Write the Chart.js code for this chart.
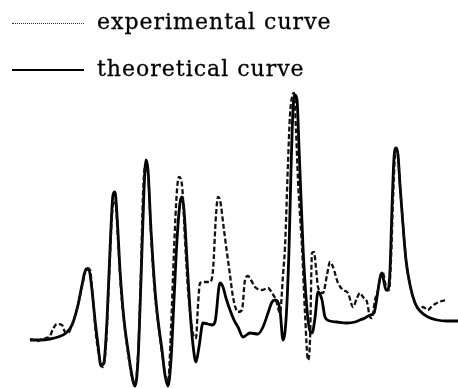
<!DOCTYPE html>
<html>
<head>
<meta charset="utf-8">
<script src="https://cdn.jsdelivr.net/npm/chart.js@4.4.1/dist/chart.umd.min.js"></script>
<style>
  html, body { margin: 0; padding: 0; background: #fff; }
  #wrap { position: relative; width: 458px; height: 388px; overflow: hidden; }
  #spectrum { position: absolute; left: 0; top: 0; }
  .key { position: absolute; left: 0; height: 30px; width: 458px; }
  .key .mark { position: absolute; left: 12px; width: 72px; }
  .key .txt {
    position: absolute; left: 97px; top: 0;
    font-family: "DejaVu Serif", serif; font-size: 22px; letter-spacing: 1px;
    line-height: 30px; color: #000; white-space: nowrap;
    -webkit-text-stroke: 0.3px #000;
  }
</style>
</head>
<body>
<div id="wrap">
  <canvas id="spectrum" width="458" height="388"></canvas>
  <div class="key" style="top:7px">
    <div class="mark" style="top:16px;border-top:1px dotted #333"></div>
    <div class="txt">experimental curve</div>
  </div>
  <div class="key" style="top:54px">
    <div class="mark" style="top:15px;border-top:2px solid #000"></div>
    <div class="txt">theoretical curve</div>
  </div>
</div>
<script>
// positions (arbitrary units) and intensities
const theoPos = [30,40,50,58,66,72,78,82,86,89,92,95,98,101,104,107,110,113,115,117,120,124,128,131,135,138,141,144,146,148,151,155,158,162,165,168,171,174,177,180,182,184,187,190,193,196,199,203,208,212,215,220,223,226,230,234,238,243,250,258,263,268,272,275,280,283,286,289,291,293,295,297,299,303,306,309,312,315,318,322,325,330,337,347,355,360,365,370,374,377,380,382,384,386,388,390,392,394,396,398,400,403,406,410,415,420,428,437,447,458];
const theoVal = [48,48,49,51,55,63,83,103,119,118,98,68,43,22,26,68,138,193,196,173,118,68,38,18,2,28,108,198,228,218,158,98,68,38,13,2,28,88,148,185,191,178,128,78,43,26,41,65,64,63,66,105,101,90,78,68,61,51,55,54,61,75,86,88,78,48,68,138,218,278,293,288,241,141,91,61,55,70,96,88,71,67,66,65,66,68,70,73,75,91,110,115,106,98,98,118,180,230,240,233,203,163,128,103,85,77,71,68,67,67];
const expPos = [30,34,38,42,46,50,53,57,62,65,68,72,78,83,87,90,93,96,100,103,106,109,112,115,118,121,125,129,132,135,138,141,143,145,148,151,155,159,163,166,168,171,174,177,179,182,185,188,191,194,196,198,200,205,210,213,216,218,220,224,227,230,233,238,242,245,248,251,255,262,268,272,276,280,283,285,288,290,292,294,296,298,300,302,305,308,310,312,314,316,318,323,327,330,333,338,343,348,353,357,360,363,367,370,372,375,378,381,383,385,387,389,391,393,395,396,398,400,403,406,410,415,420,423,428,432,437,442,447];
const expVal = [49,48,47,49,50,52,59,64,63,56,55,63,83,106,120,118,88,53,28,21,43,108,173,188,148,98,58,28,10,4,33,118,193,221,213,153,93,58,28,10,6,58,138,198,211,203,148,98,68,51,50,83,105,106,106,118,173,191,188,158,135,113,91,76,78,108,112,108,101,98,100,95,88,75,113,141,225,273,291,295,258,208,173,141,75,28,48,135,136,120,101,95,113,126,121,105,98,95,81,90,95,91,86,71,70,88,98,114,115,106,98,98,128,188,233,240,233,203,163,128,103,85,78,81,78,82,85,87,88];

const toPoints = (xs, ys) => xs.map((x, i) => ({ x: x, y: ys[i] }));

new Chart(document.getElementById('spectrum').getContext('2d'), {
  type: 'line',
  data: {
    datasets: [
      {
        label: 'experimental curve',
        data: toPoints(expPos, expVal),
        borderColor: '#111',
        borderWidth: 2.3,
        borderDash: [5, 2.5],
        pointRadius: 0,
        fill: false,
        cubicInterpolationMode: 'monotone'
      },
      {
        label: 'theoretical curve',
        data: toPoints(theoPos, theoVal),
        borderColor: '#000',
        borderWidth: 2.8,
        pointRadius: 0,
        fill: false,
        cubicInterpolationMode: 'monotone'
      }
    ]
  },
  options: {
    responsive: false,
    animation: false,
    layout: { padding: 0 },
    scales: {
      x: { type: 'linear', min: 0, max: 458, display: false },
      y: { min: 0, max: 388, display: false }
    },
    plugins: {
      legend: { display: false },
      tooltip: { enabled: false }
    },
    clip: false
  }
});
</script>
</body>
</html>
